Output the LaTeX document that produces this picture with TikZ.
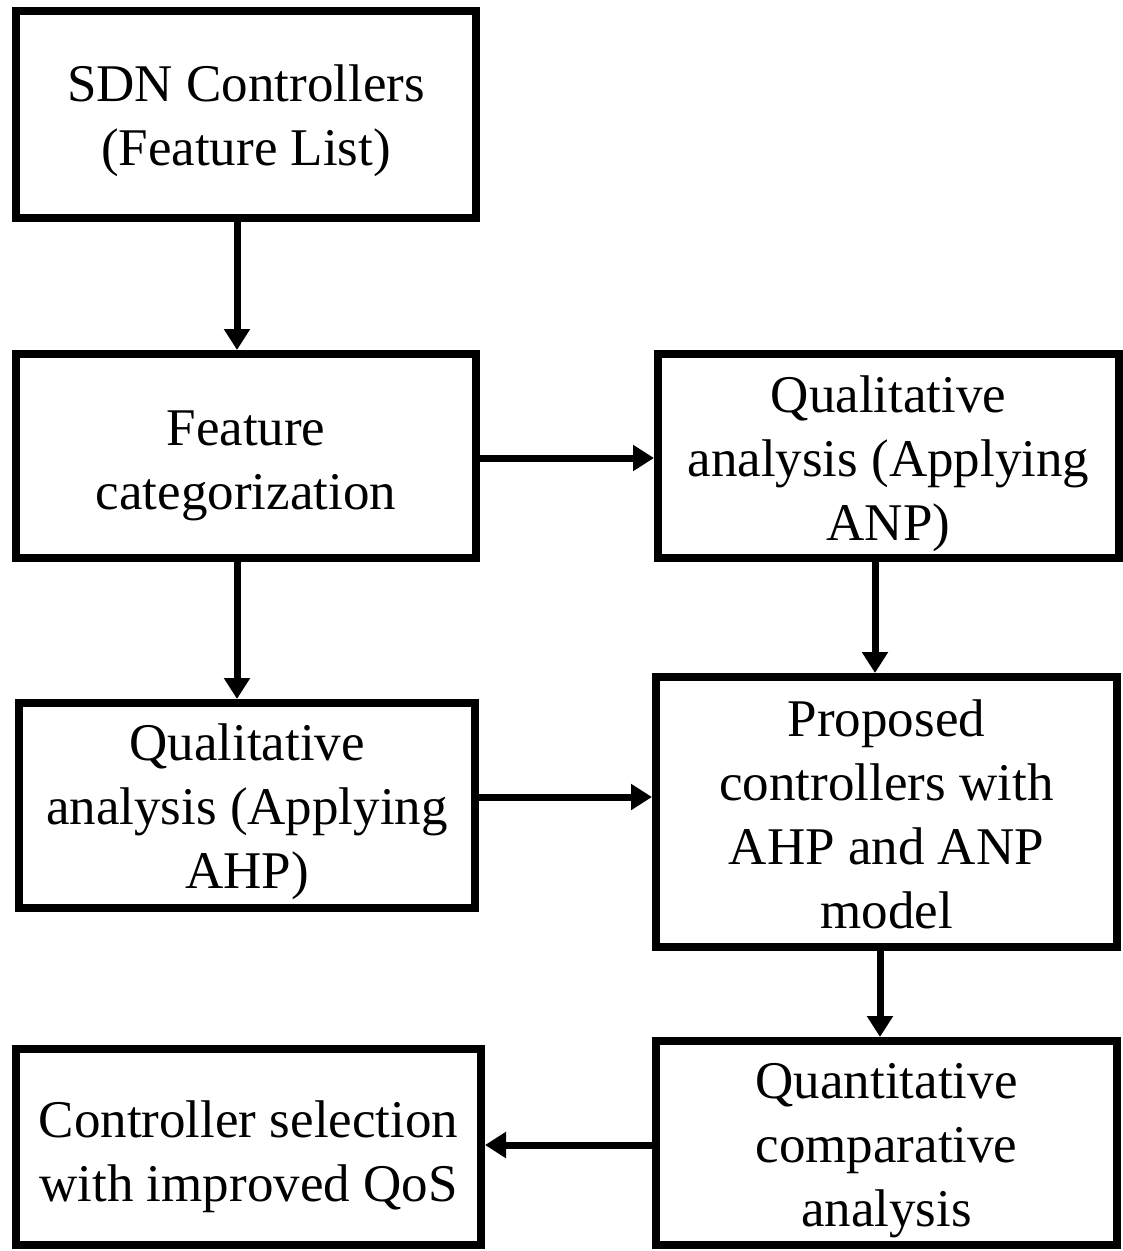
\documentclass[tikz,border=0pt]{standalone}
\usepackage{fontspec}
\setmainfont{Liberation Serif}
\usetikzlibrary{arrows.meta}
% invisible strut that lowers the text block inside a box
\newcommand\dropstrut[1]{\rule{0pt}{#1pt}}
\begin{document}
\begin{tikzpicture}[x=1pt,y=-1pt,
  stepbox/.style={draw=black, line width=8pt, fill=white, rectangle, inner sep=0pt,
    align=center, font=\fontsize{53}{64}\selectfont},
  flow/.style={line width=7pt, -{Triangle[length=21pt,width=25pt]}}]
\useasboundingbox (0,0) rectangle (1123,1251);
\node[stepbox, minimum width=460pt, minimum height=207pt] (b1) at (246,114.5)
  {\dropstrut{50}SDN Controllers\\(Feature List)};
\node[stepbox, minimum width=460pt, minimum height=204pt] (b2) at (246,456)
  {\dropstrut{54}Feature\\categorization};
\node[stepbox, minimum width=461pt, minimum height=204pt] (b3) at (888.5,456)
  {\dropstrut{52}Qualitative\\analysis (Applying\\ANP)};
\node[stepbox, minimum width=456pt, minimum height=205pt] (b4) at (247,805.5)
  {\dropstrut{50}Qualitative\\analysis (Applying\\AHP)};
\node[stepbox, minimum width=461pt, minimum height=270pt] (b5) at (886.5,812)
  {\dropstrut{42}Proposed\\controllers with\\AHP and ANP\\model};
\node[stepbox, minimum width=461pt, minimum height=204pt] (b6) at (886.5,1143)
  {\dropstrut{50}Quantitative\\comparative\\analysis};
\node[stepbox, minimum width=465pt, minimum height=196pt] (b7) at (248.5,1147)
  {\dropstrut{56}Controller selection\\with improved QoS};
% connector positions
\coordinate (xl) at (237,0);
\coordinate (xr1) at (875,0);
\coordinate (xr2) at (880,0);
\coordinate (y1) at (0,458);
\coordinate (y2) at (0,797);
\coordinate (y3) at (0,1145);
\draw[flow] (b1.south -| xl) -- (b2.north -| xl);
\draw[flow] (b2.south -| xl) -- (b4.north -| xl);
\draw[flow] (b2.east |- y1) -- (b3.west |- y1);
\draw[flow] (b3.south -| xr1) -- (b5.north -| xr1);
\draw[flow] (b4.east |- y2) -- (b5.west |- y2);
\draw[flow] (b5.south -| xr2) -- (b6.north -| xr2);
\draw[flow] (b6.west |- y3) -- (b7.east |- y3);
\end{tikzpicture}
\end{document}
